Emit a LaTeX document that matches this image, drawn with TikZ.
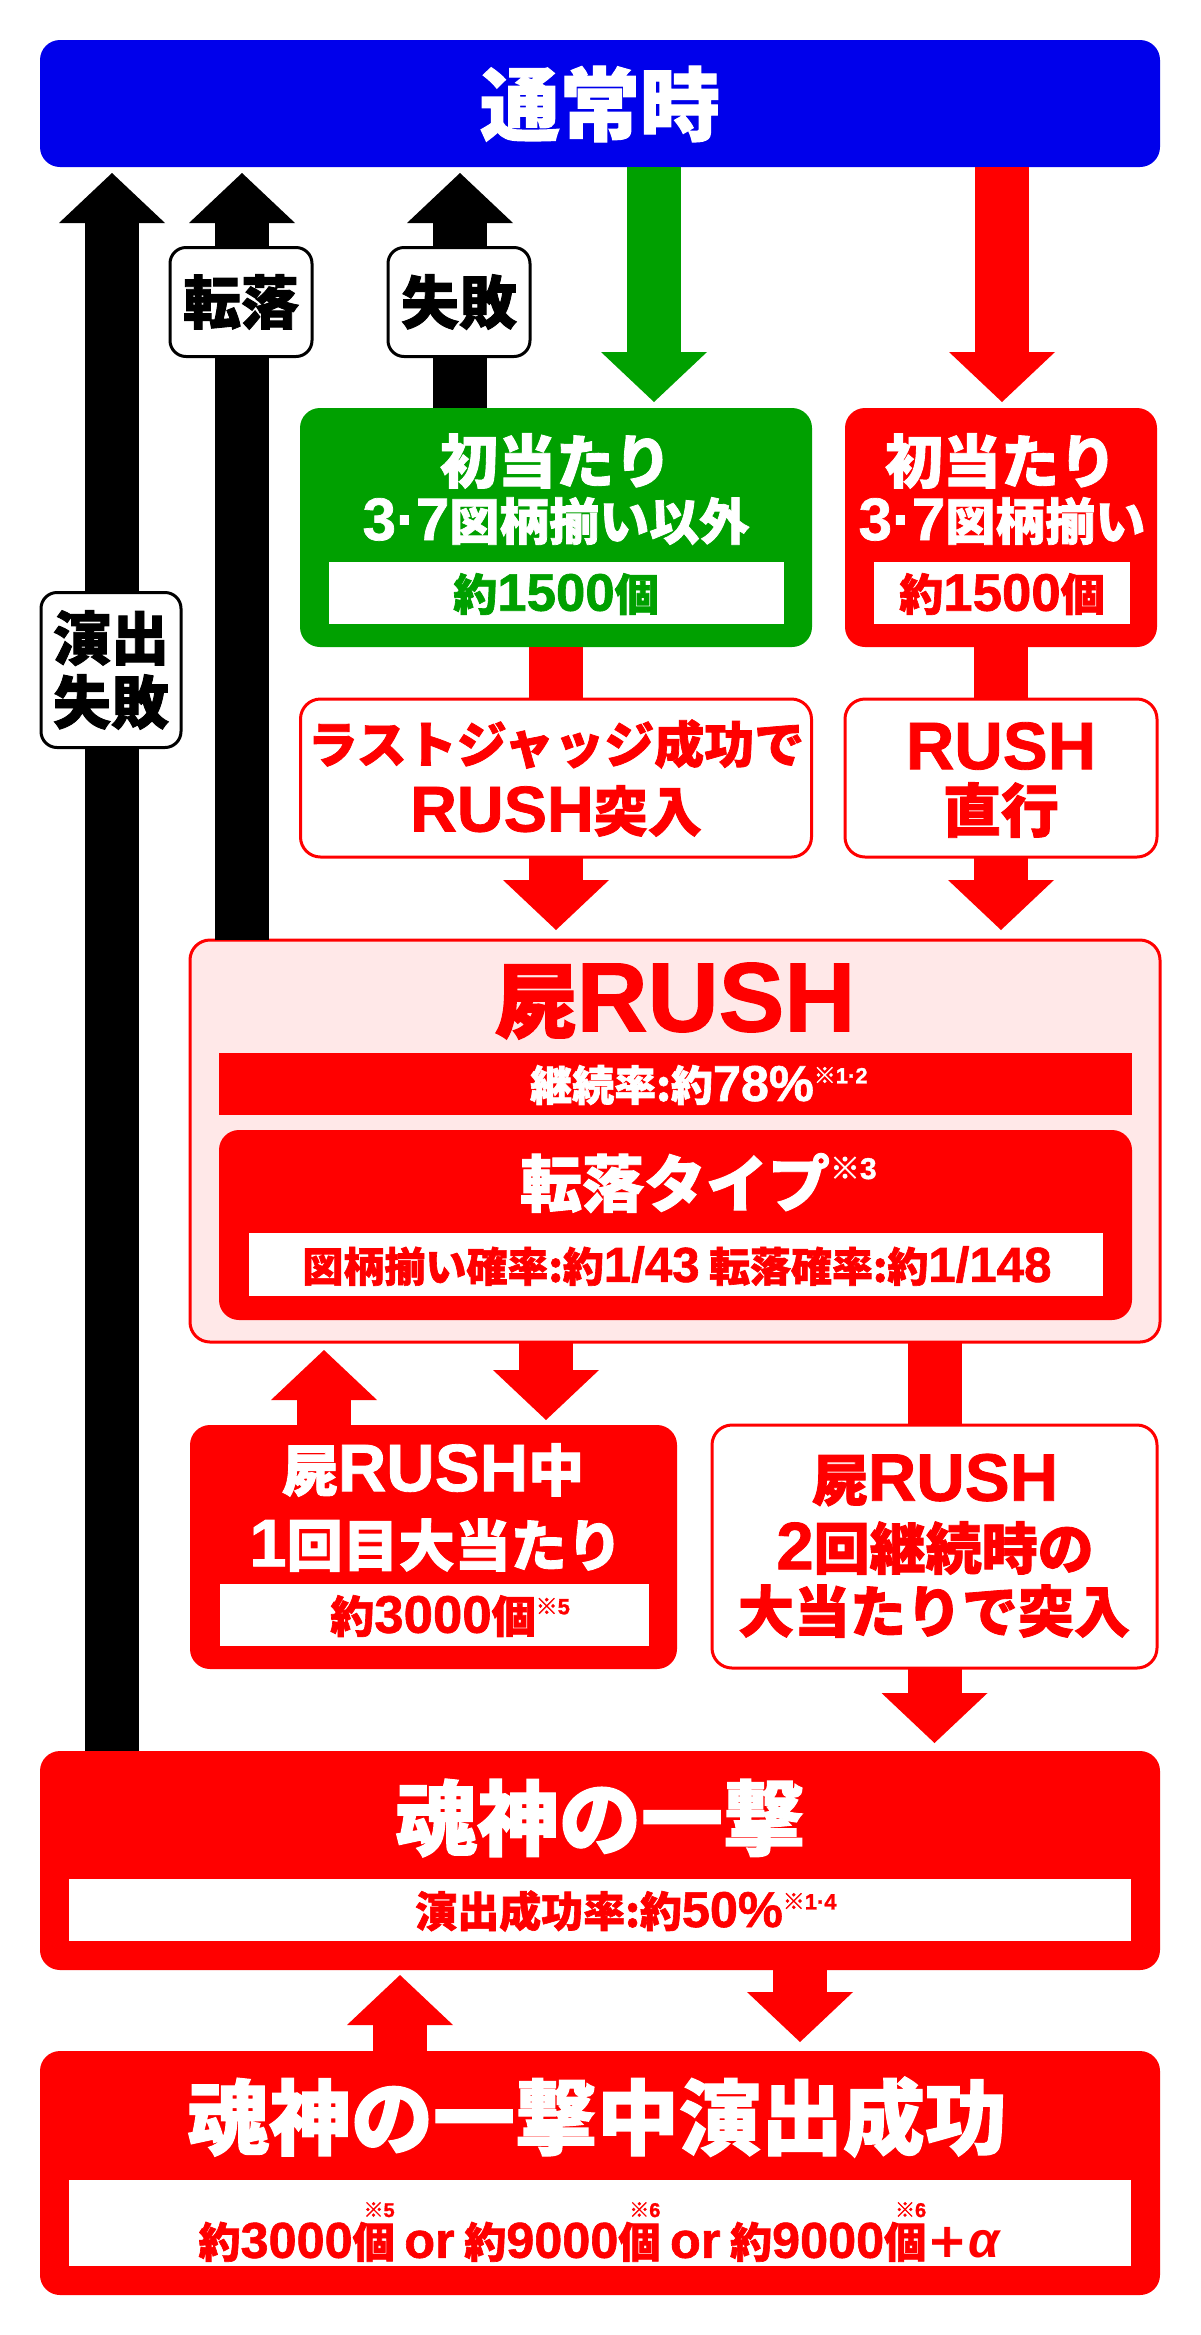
\documentclass[tikz,border=0pt]{standalone}
\usepackage{fontspec}
\usepackage{graphicx}
\setmainfont{Noto Sans CJK JP}[BoldFeatures={FakeBold=1.5}]
\newfontfamily\latf{Liberation Sans}[BoldFeatures={FakeBold=1.2}]
\usetikzlibrary{arrows.meta}
\definecolor{cblue}{RGB}{0,0,235}
\definecolor{cgreen}{RGB}{0,160,0}
\definecolor{cred}{RGB}{255,0,0}
\definecolor{cpink}{RGB}{255,232,232}
\newcommand{\mysz}[1]{\fontsize{#1}{#1}\selectfont}
\newcommand{\latn}[1]{{\latf\bfseries\scalebox{1.2}{#1}}}
\newcommand{\sps}[1]{\rlap{\raisebox{0.42em}{\bfseries\mysz{22}※{\latf #1}}}}
\newcommand{\spo}[1]{\llap{\raisebox{0.97em}{\bfseries\mysz{20}※{\latf #1}}}}
\begin{document}
\begin{tikzpicture}[x=1pt,y=-1pt,
  box/.style={rounded corners=20pt, inner sep=0pt, outer sep=0pt},
  redbox/.style={box, fill=cred},
  whitebox/.style={box, fill=white, draw=cred, line width=3pt},
  bar/.style={fill=white, inner sep=0pt, outer sep=0pt},
  txt/.style={inner sep=0pt, outer sep=0pt, align=center},
  blk/.style={line width=54pt, -{Triangle[width=106pt,length=50pt,line width=0pt]}},
  shaft/.style={line width=54pt},
  lbl/.style={draw=black, line width=3pt, fill=white, rounded corners=16pt, inner sep=0pt, align=center, font=\bfseries\fontsize{58}{64}\selectfont}
]
\useasboundingbox (0,0) rectangle (1200,2335);
\fill[white] (0,0) rectangle (1200,2335);

% top
\node[box, fill=cblue, minimum width=1120pt, minimum height=127pt] (normal) at (600,103.5) {};
\node[txt, text=white, font=\bfseries\mysz{80}] (normalt) at (600,104) {通常時};

% green first hit
\node[box, fill=cgreen, minimum width=512pt, minimum height=239pt] (gbox) at (556,527.5) {};
\node[txt, text=white, font=\bfseries\mysz{58}] (gt1) at (556,461) {初当たり};
\node[txt, text=white, font=\bfseries\mysz{50}] (gt2) at (556,521) {\latn{3·7}図柄揃い以外};
\node[bar, minimum width=455pt, minimum height=62pt] (gbar) at (556.5,593) {};
\node[txt, text=cgreen, font=\bfseries\mysz{44}] (gbart) at (556,594) {約\latn{1500}個};

% red first hit
\node[redbox, minimum width=312pt, minimum height=239pt] (rbox) at (1001,527.5) {};
\node[txt, text=white, font=\bfseries\mysz{58}] (rt1) at (1001,461) {初当たり};
\node[txt, text=white, font=\bfseries\mysz{50}] (rt2) at (1002,521) {\latn{3·7}図柄揃い};
\node[bar, minimum width=256pt, minimum height=62pt] (rbar) at (1002,593) {};
\node[txt, text=cred, font=\bfseries\mysz{44}] (rbart) at (1002,594) {約\latn{1500}個};

% route boxes
\node[whitebox, minimum width=511pt, minimum height=158pt] (ljbox) at (556,778) {};
\node[txt, text=cred, font=\bfseries\mysz{50}] (lj1) at (556,744) {ラストジャッジ成功で};
\node[txt, text=cred, font=\bfseries\mysz{54}] (lj2) at (556,811) {\latn{RUSH}突入};
\node[whitebox, minimum width=312pt, minimum height=158pt] (rsbox) at (1001,778) {};
\node[txt, text=cred, font=\bfseries\mysz{56}] (rs1) at (1001,746) {\latn{RUSH}};
\node[txt, text=cred, font=\bfseries\mysz{58}] (rs2) at (1001,810) {直行};

% RUSH block
\node[box, fill=cpink, draw=cred, line width=3pt, minimum width=970pt, minimum height=402pt] (pink) at (675,1141) {};
\node[txt, text=cred, font=\bfseries\mysz{82}] (pt) at (675,1001) {屍\latn{RUSH}};
\node[fill=cred, inner sep=0pt, outer sep=0pt, minimum width=913pt, minimum height=62pt] (pbar) at (675.5,1084) {};
\node[txt, text=white, font=\bfseries\mysz{42}] (pbart) at (672,1085) {継続率:約\latn{78\%}\sps{1·2}};
\node[redbox, minimum width=913pt, minimum height=190pt] (ttbox) at (675.5,1225) {};
\node[txt, text=white, font=\bfseries\mysz{62}] (ttt) at (675,1183) {転落タイプ\rlap{\raisebox{0.45em}{\mysz{30}※{\latf 3}}}};
\node[bar, minimum width=854pt, minimum height=63pt] (ttbar) at (676,1264.5) {};
\node[txt, text=cred, font=\bfseries\mysz{41}] (ttbart) at (677,1266) {図柄揃い確率:約\latn{1/43} 転落確率:約\latn{1/148}};

% lower boxes
\node[redbox, minimum width=487pt, minimum height=244pt] (hbox) at (433.5,1547) {};
\node[txt, text=white, font=\bfseries\mysz{56}] (h1) at (433,1470) {屍\latn{RUSH}中};
\node[txt, text=white, font=\bfseries\mysz{56}] (h2) at (436,1545) {\latn{1}回目大当たり};
\node[bar, minimum width=429pt, minimum height=62pt] (hbar) at (434.5,1615) {};
\node[txt, text=cred, font=\bfseries\mysz{44}] (hbart) at (433,1616) {約\latn{3000}個\sps{5}};

\node[whitebox, minimum width=445pt, minimum height=243pt] (nbox) at (934.5,1546.5) {};
\node[txt, text=cred, font=\bfseries\mysz{56}] (n1) at (935,1480) {屍\latn{RUSH}};
\node[txt, text=cred, font=\bfseries\mysz{56}] (n2) at (935,1548) {\latn{2}回継続時の};
\node[txt, text=cred, font=\bfseries\mysz{56}] (n3) at (934,1611) {大当たりで突入};

% ichigeki
\node[redbox, minimum width=1120pt, minimum height=219pt] (kbox) at (600,1860.5) {};
\node[txt, text=white, font=\bfseries\mysz{82}] (kt) at (600,1818) {魂神の一撃};
\node[bar, minimum width=1062pt, minimum height=62pt] (kbar) at (600,1910) {};
\node[txt, text=cred, font=\bfseries\mysz{42}] (kbart) at (599,1911) {演出成功率:約\latn{50\%}\sps{1·4}};

\node[redbox, minimum width=1120pt, minimum height=244pt] (sbox) at (600,2173) {};
\node[txt, text=white, font=\bfseries\mysz{82}] (st) at (597,2117) {魂神の一撃中演出成功};
\node[bar, minimum width=1062pt, minimum height=86pt] (sbar) at (600,2223) {};
\node[txt, text=cred, font=\bfseries\mysz{42}] (sbart) at (599,2232) {約\latn{3000}個\spo{5} \latn{or} 約\latn{9000}個\spo{6} \latn{or} 約\latn{9000}個\spo{6}＋{\latf\itshape\scalebox{1.2}{α}}};

% connectors
\coordinate (c1) at (112,0);
\coordinate (c2) at (242,0);
\coordinate (c3) at (460,0);
\coordinate (c4) at (654,0);
\coordinate (c5) at (1002,0);
\coordinate (c6) at (324,0);
\coordinate (c7) at (546,0);
\coordinate (c8) at (400,0);
\coordinate (c9) at (800,0);

\draw[blk, black, shorten >=6pt] (kbox.north -| c1) -- (normal.south -| c1);
\draw[blk, black, shorten >=6pt] (pink.north -| c2) -- (normal.south -| c2);
\draw[blk, black, shorten >=6pt] (gbox.north -| c3) -- (normal.south -| c3);
\draw[blk, cgreen, shorten >=6pt] (normal.south -| c4) -- (gbox.north -| c4);
\draw[blk, cred, shorten >=6pt] (normal.south -| c5) -- (rbox.north -| c5);
\draw[shaft, cred] (gbox.south) -- (ljbox.north);
\draw[shaft, cred] (rbox.south) -- (rsbox.north);
\draw[blk, cred, shorten >=10pt] (ljbox.south) -- (pink.north -| ljbox.south);
\draw[blk, cred, shorten >=10pt] (rsbox.south) -- (pink.north -| rsbox.south);
\draw[blk, cred, shorten >=8pt] (hbox.north -| c6) -- (pink.south -| c6);
\draw[blk, cred, shorten >=5pt] (pink.south -| c7) -- (hbox.north -| c7);
\draw[shaft, cred] (pink.south -| nbox.north) -- (nbox.north);
\draw[blk, cred, shorten >=8pt] (nbox.south) -- (kbox.north -| nbox.south);
\draw[blk, cred, shorten >=5pt] (sbox.north -| c8) -- (kbox.south -| c8);
\draw[blk, cred, shorten >=9pt] (kbox.south -| c9) -- (sbox.north -| c9);

% labels on return arrows
\node[lbl, minimum width=142pt, minimum height=109pt] (lt) at (241,302) {転落};
\node[lbl, minimum width=142pt, minimum height=109pt] (lf) at (459,302) {失敗};
\node[lbl, minimum width=140pt, minimum height=155pt] (le) at (111,670) {演出\\失敗};
\end{tikzpicture}
\end{document}
